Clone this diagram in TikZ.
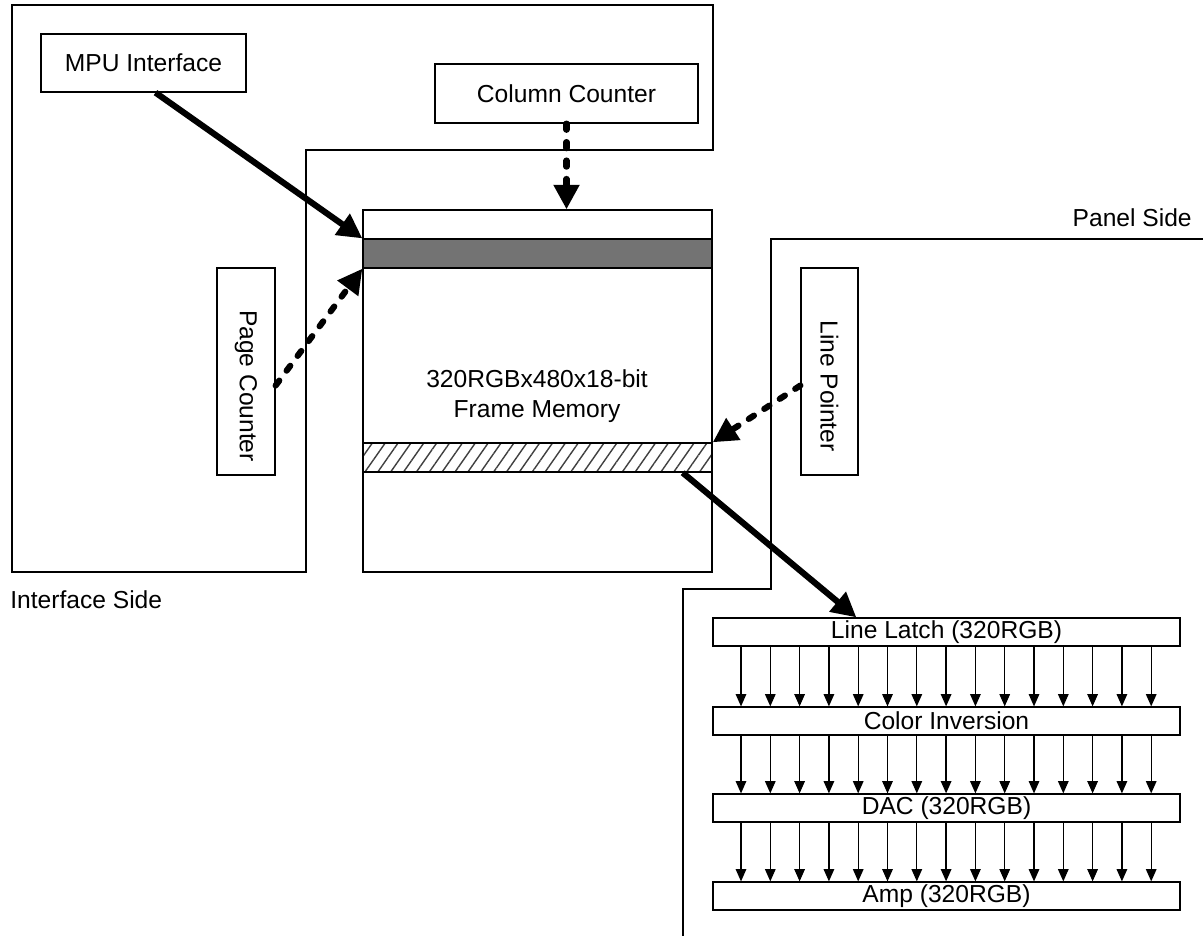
\documentclass[tikz,border=0pt]{standalone}
\usepackage{fontspec}
\setmainfont{Liberation Sans}
\usetikzlibrary{arrows.meta,fit,calc,patterns.meta}

\begin{document}
\begin{tikzpicture}[x=0.02cm,y=-0.02cm,
  box/.style={draw,line width=0.7pt,inner sep=0pt},
  txt/.style={inner sep=0pt,font=\fontsize{14}{17}\selectfont},
  big/.style={line width=3.5pt,-{Triangle[width=14pt,length=14pt]}},
  dots/.style={big,line cap=round,dash pattern=on 3.5pt off 7pt},
  small/.style={line width=0.7pt,-{Triangle[width=6pt,length=7pt]}}]
\useasboundingbox (0,0) rectangle (1203,938);

% the two sides
\draw[line width=0.7pt] (12,5) -- (713,5) -- (713,150) -- (306,150) -- (306,572) -- (12,572) -- cycle;
\draw[line width=0.7pt] (1203,239) -- (771,239) -- (771,589) -- (683,589) -- (683,936);
\node[txt,anchor=west] (ifside) at (10,600) {Interface Side};
\node[txt,anchor=east] (pnside) at (1192,218) {Panel Side};

% interface side blocks
\node[box,fit={(41,34) (246,92)},label={[txt]center:MPU Interface}] (mpu) {};
\node[box,fit={(435,64) (698,123)},label={[txt]center:Column Counter}] (col) {};
\node[box,fit={(217,268) (275,475)}] (page) {};
\node[txt,rotate=-90] (pagetxt) at (246,386) {Page Counter};

% frame memory
\node[box,fit={(363,210) (712,572)}] (mem) {};
\node[txt,align=center] (memtxt) at (537,396) {320RGBx480x18-bit\\Frame Memory};
\node[box,fit={(363,239) (712,268)},fill=black!55] (dark) {};
\node[box,fit={(363,443) (712,472)},pattern={Lines[angle=55,distance=6pt,line width=0.8pt]},pattern color=black!75] (hatch) {};

% panel side blocks
\node[box,fit={(801,268) (858,475)}] (lp) {};
\node[txt,rotate=-90] (lptxt) at (829.5,386) {Line Pointer};
\node[box,fit={(713,618) (1180,646)},label={[txt]center:Line Latch (320RGB)}] (latch) {};
\node[box,fit={(713,707) (1180,735)},label={[txt]center:Color Inversion}] (colinv) {};
\node[box,fit={(713,794) (1180,822)},label={[txt]center:DAC (320RGB)}] (dac) {};
\node[box,fit={(713,882) (1180,910)},label={[txt]center:Amp (320RGB)}] (amp) {};

% arrows
\draw[big] ($(mpu.south)+(12,0)$) -- (dark.north west);
\draw[dots] (col.south) -- (col.south |- mem.north);
\draw[dots] ($(page.east)+(0,14)$) -- (dark.south west);
\draw[dots] ($(lp.west)+(0,14)$) -- (hatch.north east);
\draw[big] ($(hatch.south east)+(-30,0)$) -- ($(latch.north west)+(144,0)$);

\foreach \a/\b in {latch/colinv,colinv/dac,dac/amp}
  \foreach \i in {0,...,14} {
    \pgfmathsetmacro\xx{741+29.3*\i}
    \draw[small] (\xx,0 |- \a.south) -- (\xx,0 |- \b.north);
  }
\end{tikzpicture}
\end{document}
